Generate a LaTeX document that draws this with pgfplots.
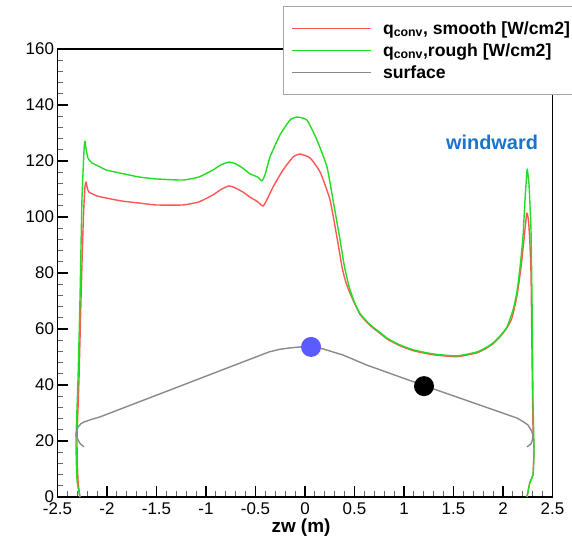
\documentclass[border=0pt]{standalone}
\usepackage{fontspec}
\setmainfont{Liberation Sans}
\usepackage{pgfplots}
\pgfplotsset{compat=1.18}
\definecolor{cred}{HTML}{FF5555}
\definecolor{cgreen}{HTML}{22DD22}
\definecolor{cgray}{HTML}{8A8A8A}
\definecolor{cblue}{HTML}{5B5BFF}
\definecolor{cwind}{HTML}{1A74CC}
\definecolor{cbox}{HTML}{A8A8A8}
\begin{document}
\begin{tikzpicture}
\begin{axis}[
  scale only axis, width=495bp, height=448bp,
  xmin=-2.5, xmax=2.5, ymin=0, ymax=160,
  xtick={-2.5,-2,-1.5,-1,-0.5,0,0.5,1,1.5,2,2.5},
  ytick={0,20,40,60,80,100,120,140,160},
  minor x tick num=4, minor y tick num=4,
  xtick pos=left, ytick pos=left, tick align=inside,
  major tick length=11bp, minor tick length=6bp,
  major tick style={line width=1.6bp, black},
  minor tick style={line width=1bp, black!60},
  axis line style={line width=1.8bp, black},
  tick label style={font=\fontsize{17}{20}\selectfont},
  xticklabel style={yshift=-2.5bp},
  /pgf/number format/assume math mode=true,
  xlabel={\bfseries zw (m)},
  xlabel style={font=\fontsize{19}{22}\selectfont, yshift=3bp, xshift=-4bp},
  legend style={at={(0.4556,1.096)}, anchor=north west, draw=cbox, line width=1.2bp, fill=white,
    font=\fontsize{17.7}{19.5}\selectfont\bfseries, cells={anchor=west}, inner xsep=8bp, inner ysep=13bp, row sep=3.7bp},
  legend image code/.code={\draw[line width=1.4bp,#1] (0bp,0bp) -- (79bp,0bp); \path (88bp,0bp);},
  every axis plot/.append style={line width=1.4bp, line join=round},
]
\coordinate (LL) at (rel axis cs:0,0);
\addplot[draw=cred, smooth, tension=0.3] coordinates {
(-2.273,0) (-2.293,6) (-2.303,20) (-2.283,42) (-2.263,70) (-2.243,95) (-2.232,105) (-2.222,111) (-2.212,112.5)
(-2.200,110.5) (-2.182,108.9) (-2.100,107.5) (-2.010,106.8) (-1.850,105.7) (-1.677,105) (-1.505,104.3)
(-1.232,104.3) (-1.071,105.4) (-0.929,107.9) (-0.850,109.8) (-0.768,111.1) (-0.700,110.3) (-0.626,108.9)
(-0.556,107.1) (-0.480,105.5) (-0.424,103.9) (-0.380,106.5) (-0.323,110.7) (-0.222,116.8) (-0.121,121.4)
(-0.051,122.5) (0.051,121.1) (0.152,116.1) (0.253,106.1) (0.333,90.7) (0.374,82.1) (0.410,77)
(0.450,73.2) (0.500,69.2) (0.556,65.2) (0.650,61.5) (0.727,59.3) (0.840,56.2) (0.960,54) (1.100,52.2)
(1.293,50.8) (1.535,50.1) (1.737,51.5) (1.820,52.9) (1.899,54.7) (1.970,57.2) (2.040,60.4) (2.091,64)
(2.142,72) (2.182,82) (2.212,92) (2.232,99) (2.242,101.4) (2.257,99) (2.270,92) (2.283,80) (2.290,60)
(2.297,40) (2.303,25) (2.313,16.8) (2.303,7.9) (2.273,5.4) (2.252,1.8) (2.242,0)
};
\addlegendentry{q\textsubscript{conv}, smooth [W/cm2]}
\addplot[draw=cgreen, smooth, tension=0.3] coordinates {
(-2.273,0) (-2.303,6) (-2.313,20.4) (-2.293,41.8) (-2.273,70.4) (-2.253,106) (-2.232,124) (-2.222,127.1)
(-2.212,124.5) (-2.192,121) (-2.152,119.3) (-2.071,117.9) (-2.010,116.8) (-1.869,115.7) (-1.677,114.3)
(-1.505,113.6) (-1.232,113.2) (-1.071,114.3) (-0.929,116.8) (-0.850,118.6) (-0.768,119.6) (-0.700,119)
(-0.626,117.4) (-0.556,115.4) (-0.480,114.3) (-0.434,112.9) (-0.400,115.5) (-0.354,121.4) (-0.253,129.3)
(-0.152,134.6) (-0.081,135.7) (0.020,134.6) (0.121,127.5) (0.222,117.9) (0.283,106.1) (0.354,91.8)
(0.400,82) (0.450,74.5) (0.500,69.5) (0.556,65.5) (0.650,61.8) (0.727,59.6) (0.840,56.5) (0.960,54.3)
(1.100,52.5) (1.293,51.1) (1.535,50.4) (1.737,51.8) (1.820,53.2) (1.899,55) (1.970,57.5) (2.040,60.7)
(2.101,66.8) (2.140,73) (2.172,82) (2.202,93) (2.222,106) (2.237,114) (2.245,117.1) (2.262,112)
(2.273,104) (2.283,95) (2.293,70.4) (2.303,34.6) (2.313,16.8) (2.303,7.9) (2.273,5.4) (2.252,1.8) (2.242,0)
};
\addlegendentry{q\textsubscript{conv},rough [W/cm2]}
\addplot[draw=cgray] coordinates {
(-2.232,17.9) (-2.270,19) (-2.293,20.4) (-2.313,22.1) (-2.303,24) (-2.293,25) (-2.262,26.2) (-2.232,26.8)
(-2.150,27.8) (-2.071,28.6) (-0.364,51.8) (-0.262,52.7) (-0.162,53.2) (-0.050,53.6) (0.061,53.7)
(0.182,52.9) (0.384,50.7) (0.626,47.1) (1.202,39.8) (2.141,28.2) (2.200,27) (2.253,25.7) (2.290,23.5)
(2.303,22.1) (2.298,20.5) (2.283,19) (2.242,17.9)
};
\addlegendentry{surface}
\addplot[forget plot, only marks, mark=*, mark size=9.3bp, mark options={fill=cblue, draw=cblue}] coordinates {(0.061,53.6)};
\addplot[forget plot, only marks, mark=*, mark size=9.3bp, mark options={fill=black, draw=black}] coordinates {(1.202,39.6)};
\node[font=\fontsize{20}{23}\selectfont\bfseries, text=cwind] at (axis cs:1.889,126.8) {windward};
\end{axis}
\pgfresetboundingbox
\path ([xshift=-57.5bp,yshift=-44bp]LL) rectangle ++(572bp,541bp);
\end{tikzpicture}
\end{document}
